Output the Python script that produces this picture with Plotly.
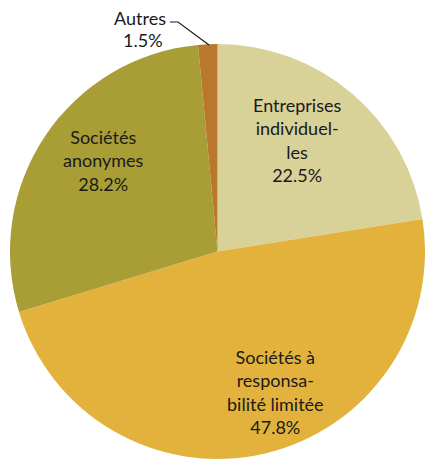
import plotly.graph_objects as go

# Data
categories = ["Entreprises individuelles", "Sociétés à responsabilité limitée",
              "Sociétés anonymes", "Autres"]
label_texts = ["Entreprises<br>individuel-<br>les", "Sociétés à<br>responsa-<br>bilité limitée",
               "Sociétés<br>anonymes", "Autres"]
values = [22.5, 47.8, 28.2, 1.5]
colors = ["#D8D198", "#E3B23D", "#A99D36", "#BA782C"]

W, H = 425, 460
ML = 10
PW = W - ML
CX, CY, R = 217.5, 251.5, 207.5

def px(x):
    return (x - ML) / PW

def py(y):
    return 1 - y / H

# label centre positions (pixels) - layout only
label_pos = [(297, 140), (275, 392), (103, 160)]

fig = go.Figure(go.Pie(
    labels=categories, values=values, sort=False, direction="clockwise",
    rotation=0, textinfo="none", hoverinfo="label+percent",
    marker=dict(colors=colors, line=dict(width=0)),
    domain=dict(x=[0, 1], y=[py(CY + R), py(CY - R)]),
    showlegend=False,
))

font = dict(family="Lato", size=18, color="#1A1A1A")
ann = []
for i in range(3):
    x, y = label_pos[i]
    ann.append(dict(x=px(x), y=py(y), xref="paper", yref="paper",
                    text=f"{label_texts[i]}<br>{values[i]:.1f}%", showarrow=False,
                    font=font, align="center", xanchor="center", yanchor="middle"))
ann.append(dict(x=px(168), y=py(18), xref="paper", yref="paper", text=label_texts[3],
                showarrow=False, font=font, xanchor="right", yanchor="middle"))
ann.append(dict(x=px(143), y=py(40), xref="paper", yref="paper", text=f"{values[3]:.1f}%",
                showarrow=False, font=font, xanchor="center", yanchor="middle"))

shapes = [dict(type="path", xref="paper", yref="paper",
               path=f"M {px(170)} {py(22)} L {px(178)} {py(22)} L {px(209)} {py(45)}",
               line=dict(color="#1A1A1A", width=1.2))]

fig.update_layout(width=W, height=H, margin=dict(l=ML, r=0, t=0, b=0),
                  paper_bgcolor="white", plot_bgcolor="white",
                  annotations=ann, shapes=shapes)

fig.write_html("out.html", config={"displayModeBar": False},
               post_script="document.body.style.margin='0';")
